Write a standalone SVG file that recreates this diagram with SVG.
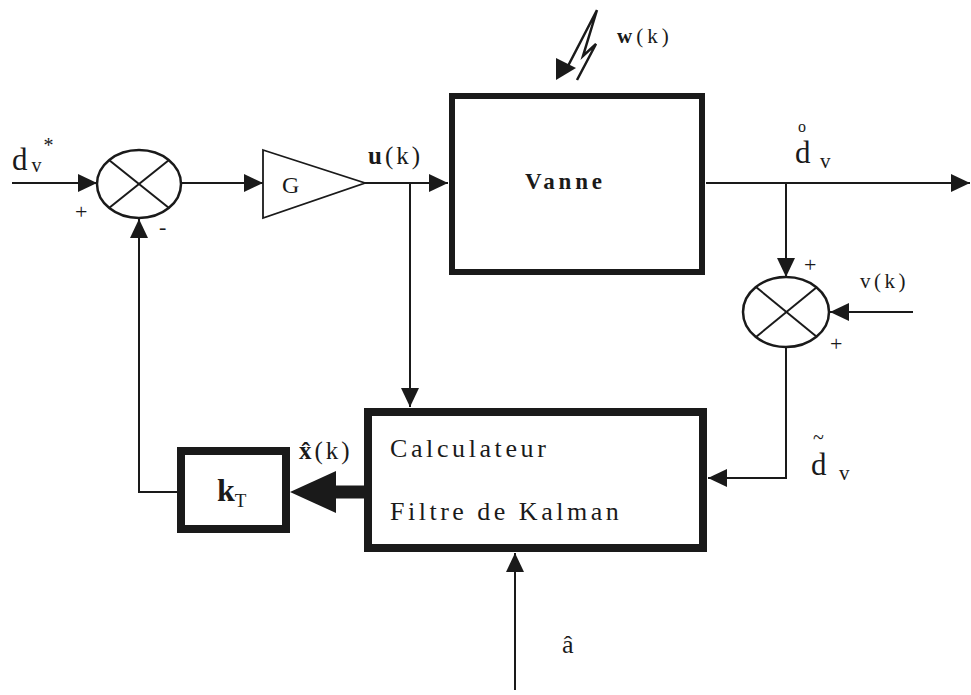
<svg xmlns="http://www.w3.org/2000/svg" width="971" height="695" viewBox="0 0 971 695">
<style>
.ln{fill:none;stroke:#1a1a1a;stroke-width:2}
.blk{fill:none;stroke:#1a1a1a}
.sum{fill:#fff;stroke:#1a1a1a;stroke-width:2.5}
.t{font-family:"Liberation Serif","DejaVu Serif",serif;fill:#1a1a1a}
</style>
<defs>
<marker id="ah" markerUnits="userSpaceOnUse" markerWidth="20" markerHeight="18" refX="19" refY="9" orient="auto">
<path d="M0,0 L19,9 L0,18 z" fill="#1a1a1a"/>
</marker>
</defs>
<rect width="971" height="695" fill="#fff"/>
<g id="connectors">
<line class="ln" x1="12" y1="183" x2="97" y2="183" marker-end="url(#ah)"/>
<line class="ln" x1="181" y1="183" x2="263" y2="183" marker-end="url(#ah)"/>
<line class="ln" x1="365" y1="183" x2="448" y2="183" marker-end="url(#ah)"/>
<line class="ln" x1="410" y1="183" x2="410" y2="407" marker-end="url(#ah)"/>
<line class="ln" x1="706" y1="183" x2="970" y2="183" marker-end="url(#ah)"/>
<line class="ln" x1="786" y1="183" x2="786" y2="277" marker-end="url(#ah)"/>
<line class="ln" x1="913" y1="312" x2="830" y2="312" marker-end="url(#ah)"/>
<polyline class="ln" points="786,347 786,478 708,478" marker-end="url(#ah)"/>
<polyline class="ln" points="178,492 139,492 139,219" marker-end="url(#ah)"/>
<line class="ln" x1="515" y1="690" x2="515" y2="553" marker-end="url(#ah)"/>
<line x1="364" y1="492" x2="334" y2="492" stroke="#1a1a1a" stroke-width="13"/>
<polygon points="290,492 336,471 336,513" fill="#1a1a1a"/>
<g id="disturbance">
<path class="ln" d="M597,10 L568,66 M597,10 L583,56 L596,44 L577,80" style="stroke-width:2.5"/>
<polygon points="556,58 576,68 556,80" fill="#1a1a1a"/>
</g>
</g>
<g id="sum1">
<ellipse class="sum" cx="139" cy="184" rx="42" ry="34"/>
<line class="ln" x1="109" y1="160" x2="169" y2="208"/>
<line class="ln" x1="169" y1="160" x2="109" y2="208"/>
</g>
<g id="gain">
<polygon class="ln" points="263,150 365,183 263,218" style="stroke-width:1.8"/>
<text class="t" x="282" y="193" font-size="24">G</text>
</g>
<g id="vanne">
<rect class="blk" x="452" y="96" width="250" height="176" stroke-width="6"/>
<text class="t" x="525" y="189" font-size="23" font-weight="bold" letter-spacing="3.8">Vanne</text>
</g>
<g id="sum2">
<ellipse class="sum" cx="786" cy="312" rx="43" ry="35"/>
<line class="ln" x1="756" y1="287" x2="817" y2="337"/>
<line class="ln" x1="817" y1="287" x2="756" y2="337"/>
</g>
<g id="calculateur">
<rect class="blk" x="368" y="412" width="335" height="136" stroke-width="8"/>
<text class="t" x="390" y="457" font-size="26" letter-spacing="3.6">Calculateur</text>
<text class="t" x="390" y="520" font-size="26" letter-spacing="3.5">Filtre de Kalman</text>
</g>
<g id="kt">
<rect class="blk" x="181" y="451" width="105" height="78" stroke-width="8"/>
<text class="t" x="217" y="501" font-size="32" font-weight="bold">k<tspan font-size="19" font-weight="normal" dy="6">T</tspan></text>
</g>
<g id="labels">
<text class="t" x="12" y="170" font-size="31">d<tspan font-size="20" dy="2" dx="4">v</tspan><tspan font-size="20" dy="-20" dx="2">*</tspan></text>
<text class="t" x="75" y="219" font-size="22">+</text>
<text class="t" x="159" y="234" font-size="22">-</text>
<text class="t" x="368" y="164" font-size="25" letter-spacing="3"><tspan font-weight="bold">u</tspan>(k)</text>
<text class="t" x="617" y="43" font-size="21" letter-spacing="4"><tspan font-weight="bold">w</tspan>(k)</text>
<text class="t" x="795" y="163" font-size="31">d</text>
<text class="t" x="798" y="132" font-size="16">o</text>
<text class="t" x="820" y="168" font-size="21">v</text>
<text class="t" x="804" y="272" font-size="22">+</text>
<text class="t" x="830" y="351" font-size="22">+</text>
<text class="t" x="860" y="288" font-size="21" letter-spacing="3.5">v(k)</text>
<text class="t" x="299" y="459" font-size="25" letter-spacing="3"><tspan font-weight="bold">x̂</tspan>(k)</text>
<text class="t" x="811" y="475" font-size="31">d</text>
<text class="t" x="813" y="444" font-size="20">~</text>
<text class="t" x="839" y="480" font-size="21">v</text>
<text class="t" x="562" y="653" font-size="26">â</text>
</g>
</svg>
